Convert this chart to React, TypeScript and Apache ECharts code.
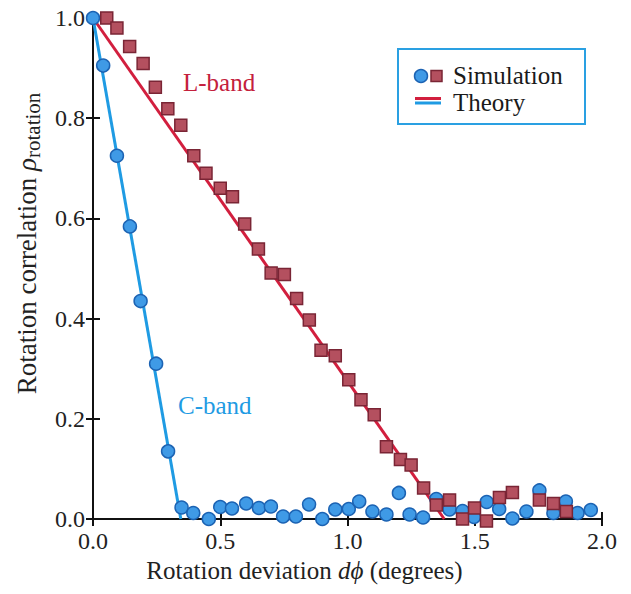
import React, { useEffect, useRef } from "react";
import * as echarts from "echarts";

// Simulation points: C-band (circles)
const cBandSim: [number, number][] = [
  [0, 1.0], [0.04, 0.905], [0.094, 0.725], [0.145, 0.584], [0.187, 0.435],
  [0.248, 0.31], [0.295, 0.135], [0.348, 0.023], [0.394, 0.012], [0.455, 0.0],
  [0.5, 0.024], [0.546, 0.021], [0.602, 0.031], [0.652, 0.022], [0.699, 0.025],
  [0.747, 0.005], [0.797, 0.005], [0.849, 0.029], [0.901, 0.0], [0.952, 0.019],
  [1.005, 0.02], [1.046, 0.035], [1.098, 0.015], [1.153, 0.009], [1.202, 0.052],
  [1.244, 0.009], [1.297, 0.003], [1.349, 0.04], [1.401, 0.019], [1.452, 0.016],
  [1.497, 0.004], [1.547, 0.034], [1.596, 0.02], [1.648, 0.001], [1.703, 0.015],
  [1.754, 0.057], [1.809, 0.012], [1.858, 0.035], [1.904, 0.012], [1.956, 0.018],
];

// Simulation points: L-band (squares)
const lBandSim: [number, number][] = [
  [0.054, 1.0], [0.094, 0.98], [0.144, 0.943], [0.197, 0.909], [0.245, 0.862],
  [0.294, 0.819], [0.345, 0.786], [0.396, 0.725], [0.444, 0.69], [0.5, 0.66],
  [0.548, 0.643], [0.596, 0.589], [0.65, 0.539], [0.7, 0.491], [0.752, 0.488],
  [0.8, 0.44], [0.85, 0.397], [0.896, 0.337], [0.952, 0.326], [1.005, 0.278],
  [1.053, 0.238], [1.105, 0.208], [1.153, 0.144], [1.208, 0.119], [1.25, 0.108],
  [1.299, 0.062], [1.349, 0.028], [1.401, 0.038], [1.452, 0.0], [1.499, 0.022],
  [1.546, -0.004], [1.597, 0.043], [1.648, 0.053], [1.754, 0.038], [1.809, 0.031],
  [1.86, 0.015],
];

// Theory lines
const cBandTheory: [number, number][] = [[0, 1], [0.345, 0]];
const lBandTheory: [number, number][] = [[0, 1], [1.38, 0]];

const xTickLabels = ["0.0", "0.5", "1.0", "1.5", "2.0"];
const yTickLabels = ["0.0", "0.2", "0.4", "0.6", "0.8", "1.0"];

const FONT = "'Liberation Serif', 'Times New Roman', serif";
const BLUE_LINE = "#1f9be3";
const RED_LINE = "#d21f3e";
const CIRCLE_FILL = "#3f9ae6";
const CIRCLE_EDGE = "#1c63b3";
const SQUARE_FILL = "#b4505f";
const SQUARE_EDGE = "#7a2535";
const AXIS = "#111";

export default function App() {
  const ref = useRef<HTMLDivElement>(null);
  useEffect(() => {
    const chart = echarts.init(ref.current!, null, { renderer: "svg" });
    const axisLine = { show: true, lineStyle: { color: AXIS, width: 2 } };
    const axisTick = { show: true, inside: true, length: 7, lineStyle: { color: AXIS, width: 2 } };
    chart.setOption({
      animation: false,
      backgroundColor: "#fff",
      grid: { left: 93, right: 29, top: 18, bottom: 75, containLabel: false },
      xAxis: [
        {
          type: "value", min: 0, max: 2, interval: 0.5, position: "bottom",
          axisLine, axisTick, splitLine: { show: false },
          axisLabel: {
            formatter: (v: number) => xTickLabels[Math.round(v / 0.5)] ?? "",
            margin: 10, fontFamily: FONT, fontSize: 24, color: "#222",
          },
          name: "Rotation deviation {i|dϕ} (degrees)",
          nameLocation: "middle", nameGap: 39,
          nameTextStyle: {
            fontFamily: FONT, fontSize: 25, color: "#222", padding: [0, 86, 0, 0],
            rich: { i: { fontFamily: FONT, fontSize: 25, fontStyle: "italic", color: "#222" } },
          },
        },
        {
          type: "value", min: 0, max: 2, interval: 0.5, position: "top",
          axisLine, axisTick, splitLine: { show: false }, axisLabel: { show: false },
        },
      ],
      yAxis: [
        {
          type: "value", min: 0, max: 1, interval: 0.2, position: "left",
          axisLine, axisTick, splitLine: { show: false },
          axisLabel: {
            formatter: (v: number) => yTickLabels[Math.round(v / 0.2)] ?? "",
            margin: 8, fontFamily: FONT, fontSize: 24, color: "#222",
          },
          name: "Rotation correlation {r|ρ}{s|rotation}",
          nameLocation: "middle", nameRotate: 90, nameGap: 50,
          nameTextStyle: {
            fontFamily: FONT, fontSize: 27, color: "#222", padding: [0, 0, 0, 50],
            rich: {
              r: { fontFamily: FONT, fontSize: 27, fontStyle: "italic", color: "#222" },
              s: { fontFamily: FONT, fontSize: 21, color: "#222", padding: [12, 0, 0, 0] },
            },
          },
        },
        {
          type: "value", min: 0, max: 1, interval: 0.2, position: "right",
          axisLine, axisTick, splitLine: { show: false }, axisLabel: { show: false },
        },
      ],
      series: [
        {
          type: "line", data: cBandTheory, showSymbol: false, symbol: "none",
          lineStyle: { color: BLUE_LINE, width: 3 }, z: 2, silent: true,
        },
        {
          type: "line", data: lBandTheory, showSymbol: false, symbol: "none",
          lineStyle: { color: RED_LINE, width: 3 }, z: 2, silent: true,
        },
        {
          type: "scatter", data: cBandSim, symbol: "circle", symbolSize: 13, clip: false,
          itemStyle: { color: CIRCLE_FILL, borderColor: CIRCLE_EDGE, borderWidth: 1.5, opacity: 1 },
          z: 3,
        },
        {
          type: "scatter", data: lBandSim, symbol: "rect", symbolSize: 12, clip: false,
          itemStyle: { color: SQUARE_FILL, borderColor: SQUARE_EDGE, borderWidth: 1.5, opacity: 1 },
          z: 4,
        },
      ],
      graphic: [
        {
          type: "text", left: 183, top: 70,
          style: { text: "L-band", fontFamily: FONT, fontSize: 25, fill: "#c4203c" },
        },
        {
          type: "text", left: 178, top: 393,
          style: { text: "C-band", fontFamily: FONT, fontSize: 25, fill: "#1f9be3" },
        },
        {
          type: "group", left: 397, top: 48,
          children: [
            {
              type: "rect", shape: { x: 0, y: 0, width: 187, height: 75 },
              style: { fill: "#fff", stroke: "#2aa0e2", lineWidth: 2 },
            },
            {
              type: "circle", shape: { cx: 23, cy: 27, r: 6.5 },
              style: { fill: CIRCLE_FILL, stroke: CIRCLE_EDGE, lineWidth: 1.5 },
            },
            {
              type: "rect", shape: { x: 33, y: 21.5, width: 11, height: 11 },
              style: { fill: SQUARE_FILL, stroke: SQUARE_EDGE, lineWidth: 1.5 },
            },
            {
              type: "text", x: 55, y: 26,
              style: {
                text: "Simulation", fontFamily: FONT, fontSize: 25, lineHeight: 24,
                fill: "#1a1a1a", verticalAlign: "middle",
              },
            },
            {
              type: "line", shape: { x1: 17, y1: 49.5, x2: 43, y2: 49.5 },
              style: { stroke: RED_LINE, lineWidth: 3 },
            },
            {
              type: "line", shape: { x1: 17, y1: 54, x2: 43, y2: 54 },
              style: { stroke: BLUE_LINE, lineWidth: 3 },
            },
            {
              type: "text", x: 55, y: 53,
              style: {
                text: "Theory", fontFamily: FONT, fontSize: 25, lineHeight: 24,
                fill: "#1a1a1a", verticalAlign: "middle",
              },
            },
          ],
        },
      ],
    });
    return () => chart.dispose();
  }, []);
  return (
    <div
      ref={ref}
      style={{ position: "fixed", left: 0, top: 0, width: 631, height: 594, background: "#fff" }}
    />
  );
}
